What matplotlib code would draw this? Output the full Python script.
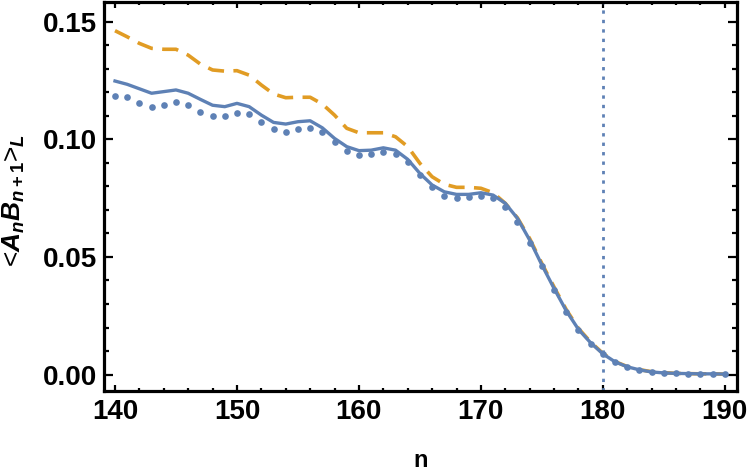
import matplotlib
matplotlib.use("Agg")
import matplotlib.pyplot as plt
from matplotlib.ticker import MultipleLocator
import numpy as np

plt.rcParams['font.family'] = ['Liberation Sans', 'DejaVu Sans']
plt.rcParams['font.weight'] = 'bold'
plt.rcParams['mathtext.fontset'] = 'custom'
plt.rcParams['mathtext.rm'] = 'Liberation Sans:bold'
plt.rcParams['mathtext.it'] = 'Liberation Sans:italic:bold'
plt.rcParams['mathtext.bf'] = 'Liberation Sans:bold'

# data
n = np.arange(140, 191)

dots = [0.1184, 0.1181, 0.1156, 0.1136, 0.1147, 0.1157, 0.1147, 0.1115, 0.1098, 0.1100,
        0.1113, 0.1106, 0.1074, 0.1044, 0.1030, 0.1044, 0.1048, 0.1031, 0.0990, 0.0952,
        0.0932, 0.0936, 0.0946, 0.0939, 0.0905, 0.0849, 0.0797, 0.0760, 0.0749, 0.0756,
        0.0760, 0.0749, 0.0713, 0.0650, 0.0560, 0.0461, 0.0359, 0.0267, 0.0189, 0.0131,
        0.0086, 0.0052, 0.0031, 0.0019, 0.0010, 0.0007, 0.0005, 0.0004, 0.0003, 0.0003,
        0.0002]

solid = [0.1248, 0.1234, 0.1215, 0.1196, 0.1203, 0.1210, 0.1196, 0.1170, 0.1145, 0.1139,
         0.1153, 0.1139, 0.1103, 0.1072, 0.1065, 0.1075, 0.1079, 0.1049, 0.1004, 0.0969,
         0.0952, 0.0954, 0.0964, 0.0954, 0.0915, 0.0855, 0.0806, 0.0777, 0.0766, 0.0766,
         0.0773, 0.0763, 0.0728, 0.0664, 0.0572, 0.0466, 0.0366, 0.0271, 0.0192, 0.0135,
         0.0088, 0.0054, 0.0033, 0.0020, 0.0011, 0.0007, 0.0005, 0.0004, 0.0003, 0.0003,
         0.0002]

dashed = [0.1462, 0.1436, 0.1408, 0.1387, 0.1383, 0.1383, 0.1358, 0.1320, 0.1295, 0.1290,
          0.1292, 0.1273, 0.1231, 0.1193, 0.1177, 0.1179, 0.1179, 0.1150, 0.1103, 0.1047,
          0.1028, 0.1028, 0.1028, 0.1011, 0.0969, 0.0898, 0.0841, 0.0809, 0.0796, 0.0796,
          0.0792, 0.0773, 0.0728, 0.0666, 0.0578, 0.0472, 0.0372, 0.0276, 0.0196, 0.0138,
          0.0090, 0.0055, 0.0034, 0.0021, 0.0012, 0.0008, 0.0005, 0.0004, 0.0003, 0.0003,
          0.0002]

n_cut = 180

blue = '#5E81B5'
orange = '#E19C24'

fig = plt.figure(figsize=(7.5, 4.75), dpi=100)
ax = fig.add_axes([0.1387, 0.1768, 0.9827 - 0.1387, 0.9958 - 0.1768])

ax.plot(n, dashed, color=orange, lw=2.6, dashes=(4.5, 2.6), solid_joinstyle='round')
ax.plot(n, solid, color=blue, lw=2.4, solid_joinstyle='round')
ax.plot(n, dots, 'o', color=blue, ms=4.8, mew=0)
ax.axvline(n_cut, color=blue, lw=2.0, dashes=(1.2, 2.2))

ax.set_xlim(139.1, 191.0)
ax.set_ylim(-0.0070, 0.1584)

ax.xaxis.set_major_locator(MultipleLocator(10))
ax.xaxis.set_minor_locator(MultipleLocator(2))
ax.yaxis.set_major_locator(MultipleLocator(0.05))
ax.yaxis.set_minor_locator(MultipleLocator(0.01))
ax.yaxis.set_major_formatter(plt.FuncFormatter(lambda v, p: f'{v:.2f}'))

ax.tick_params(axis='both', which='both', direction='in', top=True, right=True,
               width=1.6, labelsize=20, colors='black')
ax.tick_params(axis='x', which='major', length=4.2, pad=6)
ax.tick_params(axis='x', which='minor', length=2.4)
ax.tick_params(axis='y', which='major', length=6.5, pad=5)
ax.tick_params(axis='y', which='minor', length=3.6)
for s in ax.spines.values():
    s.set_linewidth(2.3)

ax.set_xlabel('n', fontsize=17, fontweight='bold', labelpad=17)
ax.set_ylabel(r'<$A_nB_{n+1}$>$_L$', fontsize=19, labelpad=4)
ax.yaxis.set_label_coords(-0.121, 0.49)

fig.savefig('out.png', dpi=100)
